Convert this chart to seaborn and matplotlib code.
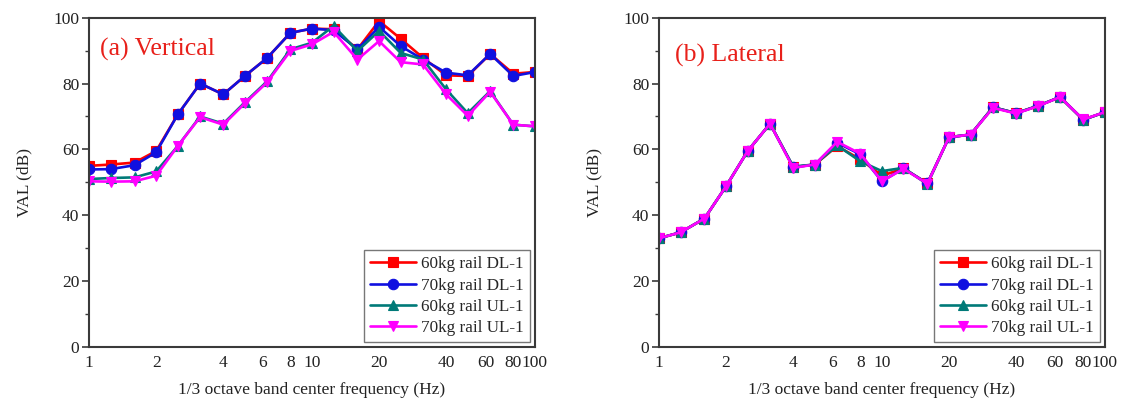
import matplotlib
matplotlib.use("Agg")
import matplotlib.pyplot as plt
import seaborn as sns
import numpy as np

# 1/3 octave band centre frequencies (Hz)
freqs = [1, 1.25, 1.6, 2, 2.5, 3.15, 4, 5, 6.3, 8, 10, 12.5, 16, 20, 25, 31.5, 40, 50, 63, 80, 100]

series_names = ["60kg rail DL-1", "70kg rail DL-1", "60kg rail UL-1", "70kg rail UL-1"]

# Vertical VAL (dB)
vert_60_dl = [55.0, 55.4, 56.0, 59.5, 70.6, 80.0, 76.7, 82.3, 87.8, 95.4, 96.7, 96.5, 90.4, 99.0, 93.6, 87.8, 82.5, 82.3, 89.0, 83.0, 83.5]
vert_70_dl = [53.9, 54.0, 55.2, 59.1, 70.6, 80.0, 76.7, 82.3, 87.8, 95.4, 96.7, 96.2, 90.4, 97.2, 91.4, 87.3, 83.3, 82.5, 89.0, 82.3, 83.5]
vert_60_ul = [51.0, 51.3, 51.5, 53.3, 61.0, 70.0, 67.8, 74.3, 80.7, 90.4, 92.4, 97.5, 89.9, 96.0, 89.3, 87.3, 78.2, 71.0, 77.7, 67.5, 67.0]
vert_70_ul = [50.3, 50.2, 50.3, 52.0, 61.0, 69.8, 67.5, 74.0, 80.4, 89.9, 91.9, 95.7, 87.3, 92.9, 86.5, 85.8, 76.7, 70.2, 77.5, 67.5, 67.0]

# Lateral VAL (dB)
lat_60_dl = [33.0, 34.8, 39.0, 48.8, 59.5, 67.8, 54.6, 55.4, 61.0, 57.0, 52.0, 54.2, 49.7, 63.7, 64.5, 72.8, 71.0, 73.2, 75.9, 69.0, 71.3]
lat_70_dl = [33.0, 34.8, 39.0, 48.8, 59.5, 67.8, 54.6, 55.4, 62.0, 58.5, 50.3, 54.2, 49.7, 63.7, 64.5, 72.8, 71.0, 73.2, 75.9, 69.0, 71.3]
lat_60_ul = [33.0, 34.8, 39.0, 48.8, 59.5, 67.8, 54.8, 55.4, 61.2, 56.4, 53.4, 54.4, 49.4, 63.7, 64.5, 72.8, 71.0, 73.2, 75.9, 69.0, 71.3]
lat_70_ul = [33.0, 34.8, 39.0, 48.8, 59.5, 67.8, 54.4, 55.4, 62.3, 58.7, 50.3, 54.1, 49.6, 63.7, 64.5, 72.6, 70.9, 73.1, 75.9, 69.1, 71.3]

xtick_vals = [1, 2, 4, 6, 8, 10, 20, 40, 60, 80, 100]
xtick_labels = ["1", "2", "4", "6", "8", "10", "20", "40", "60", "80", "100"]

colors = ["#ff0000", "#1010e0", "#007a78", "#ff00ff"]
markers = ["s", "o", "^", "v"]

sns.set_theme(style="white")
plt.rcParams["font.family"] = ["Liberation Serif", "DejaVu Serif"]

fig = plt.figure(figsize=(11.23, 4.12), dpi=100)
ax_v = fig.add_axes([0.0793, 0.158, 0.397, 0.799])
ax_l = fig.add_axes([0.5868, 0.158, 0.397, 0.799])

panels = [
    (ax_v, [vert_60_dl, vert_70_dl, vert_60_ul, vert_70_ul], "(a) Vertical", (0.025, 0.905)),
    (ax_l, [lat_60_dl, lat_70_dl, lat_60_ul, lat_70_ul], "(b) Lateral", (0.035, 0.885)),
]

spine_col = "#3a3a3a"
for ax, data, tag, tag_pos in panels:
    for name, vals, c, m in zip(series_names, data, colors, markers):
        sns.lineplot(x=freqs, y=vals, ax=ax, color=c, marker=m, markersize=7.5,
                     markeredgecolor=c, markeredgewidth=0.8, linewidth=1.9,
                     label=name, legend=True)
    ax.set_xscale("log")
    ax.set_xlim(1, 100)
    ax.set_ylim(0, 100)
    ax.set_xticks(xtick_vals)
    ax.set_xticklabels(xtick_labels)
    ax.xaxis.set_minor_locator(matplotlib.ticker.NullLocator())
    ax.set_yticks(np.arange(0, 101, 20))
    ax.set_yticks(np.arange(10, 100, 20), minor=True)
    ax.tick_params(axis="x", which="major", direction="in", length=4, width=1.2,
                   color=spine_col, labelsize=12.5, pad=6, labelcolor="#222222")
    ax.tick_params(axis="y", which="major", direction="out", length=5, width=1.2,
                   color=spine_col, labelsize=12.5, pad=2, labelcolor="#222222", left=True)
    ax.tick_params(axis="y", which="minor", direction="out", length=3, width=1.0,
                   color=spine_col, left=True)
    for sp in ax.spines.values():
        sp.set_color(spine_col)
        sp.set_linewidth(1.5)
    ax.set_xlabel("1/3 octave band center frequency (Hz)", fontsize=12.5, color="#222222", labelpad=8)
    ax.set_ylabel("VAL (dB)", fontsize=12.5, color="#222222", labelpad=15)
    ax.text(tag_pos[0], tag_pos[1], tag, transform=ax.transAxes, color="#e8201a",
            fontsize=18.5, ha="left", va="center")
    leg = ax.legend(loc="lower right", fontsize=12.3, frameon=True, fancybox=False,
                    borderpad=0.35, labelspacing=0.3, handlelength=2.7,
                    handletextpad=0.3, borderaxespad=0.3)
    leg.get_frame().set_edgecolor("#555555")
    leg.get_frame().set_linewidth(1.0)

fig.savefig("out.png", dpi=100)
